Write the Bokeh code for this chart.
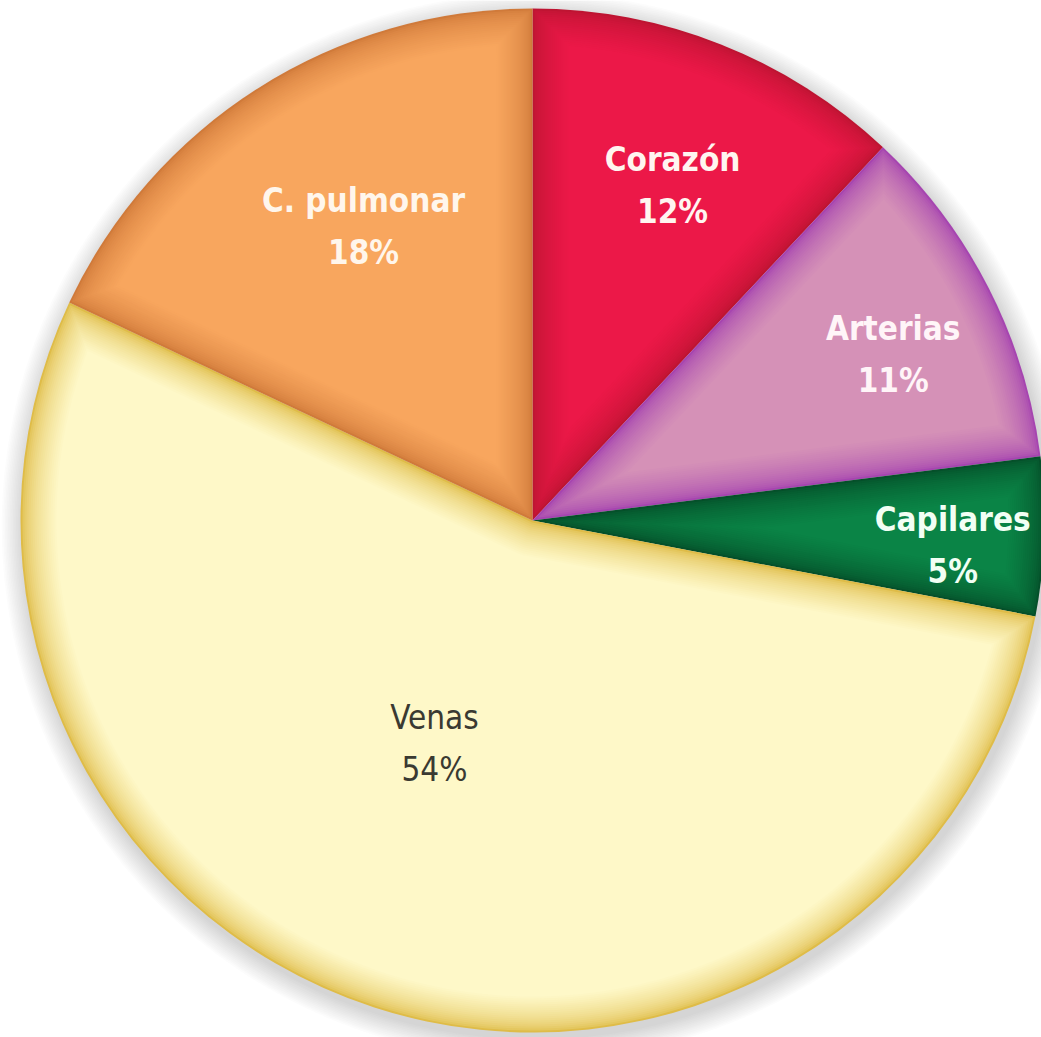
import numpy as np
from bokeh.plotting import figure
from bokeh.core.properties import value
from bokeh.embed import file_html
from bokeh.resources import INLINE

# Share of total blood volume by compartment (clockwise from 12 o'clock)
labels = ["Corazón", "Arterias", "Capilares", "Venas", "C. pulmonar"]
shares = [12, 11, 5, 54, 18]

# Slice face colours and the darker rim colour each one shades into
main_colors = ["#EC1848", "#D591B7", "#0A8446", "#FEF8C8", "#F8A65E"]
edge_colors = ["#BE1432", "#A645B0", "#05502A", "#DFBC48", "#D07A3A"]
text_colors = ["#FFF5F0", "#FFF5F8", "#F2FFF4", "#3A3A32", "#FFF6EC"]
text_styles = ["bold", "bold", "bold", "normal", "bold"]

# Label placement: distance from centre and small angular nudge
label_r = [363, 397, 421, 244, 339]
label_nudge_deg = [-1.1, -2.3, -1.6, -5.7, -2.5]

W, H = 1041, 1037
CX, CY, R = 532.0, H - 520.0, 512.0
FONT = "DejaVu Sans Condensed, Roboto, sans-serif"

frac = np.array(shares, dtype=float) / sum(shares)
a_lo = np.pi / 2 - 2 * np.pi * np.cumsum(frac)
a_hi = a_lo + 2 * np.pi * frac


def mix(c1, c2, t):
    a = np.array([int(c1[i:i + 2], 16) for i in (1, 3, 5)], dtype=float)
    b = np.array([int(c2[i:i + 2], 16) for i in (1, 3, 5)], dtype=float)
    c = a + (b - a) * t
    return "#%02x%02x%02x" % tuple(int(round(v)) for v in c)


def inset_wedge(a0, a1, d, n=160):
    """Polygon of the wedge [a0, a1] shrunk inward by distance d."""
    span = a1 - a0
    rp = R - d
    delta = np.arcsin(d / rp)
    arc = np.linspace(a0 + delta, a1 - delta, n)
    xs = list(rp * np.cos(arc))
    ys = list(rp * np.sin(arc))
    if span < np.pi:
        r_apex = d / np.sin(span / 2)
        mid = (a0 + a1) / 2
        xs.append(r_apex * np.cos(mid))
        ys.append(r_apex * np.sin(mid))
    else:
        corner = np.linspace(a1 - np.pi / 2, a0 + np.pi / 2, 40)
        xs += list(d * np.cos(corner))
        ys += list(d * np.sin(corner))
    return [CX + x for x in xs], [CY + y for y in ys]


p = figure(width=W, height=H, x_range=(0, W), y_range=(0, H),
           output_backend="svg", toolbar_location=None, min_border=0)
p.axis.visible = False
p.grid.visible = False
p.outline_line_color = None
p.background_fill_color = "white"
p.border_fill_color = "white"

# soft drop shadow
for k in range(14):
    p.circle(CX + 3, CY - 6, radius=R + 1 + k * 1.6,
             fill_color="#5a5a6a", fill_alpha=0.018, line_color=None)

# slices: rim colour first, then progressively inset layers fading to the face colour
steps = 18
dmax = 36.0
for i in range(len(shares)):
    p.wedge(x=CX, y=CY, radius=R, start_angle=a_lo[i], end_angle=a_hi[i],
            fill_color=edge_colors[i], line_color=None)
    xs_list, ys_list, cols = [], [], []
    for k in range(1, steps + 1):
        d = dmax * k / steps
        t = (k / steps) ** 0.6
        xs, ys = inset_wedge(a_lo[i], a_hi[i], d)
        xs_list.append(xs)
        ys_list.append(ys)
        cols.append(mix(edge_colors[i], main_colors[i], t))
    p.patches(xs_list, ys_list, fill_color=cols, line_color=None)

# labels
for i in range(len(shares)):
    ang = (a_lo[i] + a_hi[i]) / 2 + np.deg2rad(label_nudge_deg[i])
    lx = CX + label_r[i] * np.cos(ang)
    ly = CY + label_r[i] * np.sin(ang)
    for txt, dy in ((labels[i], 26), (f"{shares[i]}%", -26)):
        p.text(x=[lx], y=[ly + dy], text=[txt],
               text_font=value(FONT), text_font_size="33px",
               text_font_style=text_styles[i], text_color=text_colors[i],
               text_align="center", text_baseline="middle")

open("out.html", "w").write(file_html(p, INLINE))
